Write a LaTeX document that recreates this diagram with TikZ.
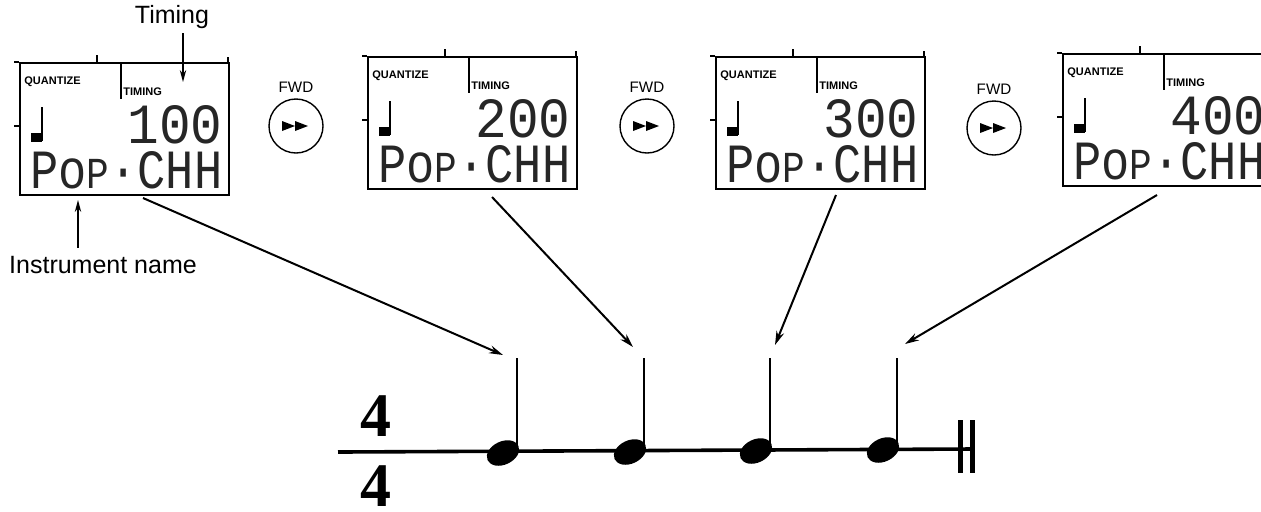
\documentclass[tikz,border=0pt]{standalone}
\usepackage{fontspec}
\setmainfont{Liberation Sans}
\newfontfamily\lcdfont{Liberation Mono}
\newfontfamily\sigfont{Liberation Serif}
\usepackage{graphicx}
\usetikzlibrary{arrows.meta,positioning}

% one LCD panel: name, left, top, timing value
\newcommand{\lcdpanel}[4]{%
  \begin{scope}[shift={(#2,#3)}]
    \node[lcdframe, anchor=north west] (#1) at (0,0) {};
    \draw[line width=0.8pt] (-5,0) -- (0,0) (209,0) -- (209,-5) (78,0) -- (78,-7) (0,64) -- (-5,64);
    \draw[line width=0.8pt] (102,0) -- (102,37);
    \node[lcdlabel, anchor=west] (#1q) at (5,20) {QUANTIZE};
    \node[lcdlabel, anchor=west] (#1t) at (104,30) {TIMING};
    % quarter note glyph
    \draw[line width=1.4pt] (23,45) -- (23,79);
    \fill (12,71) rectangle (23,80);
    \node[lcdtext, anchor=south east] (#1v) at (204,82) {\resizebox{47.5pt}{19pt}{#4}};
    \node[lcdtext, anchor=south west] (#1n) at (11,127) {\resizebox{96pt}{18.5pt}{Po{\footnotesize P}·CHH}};
  \end{scope}}

\begin{document}
\begin{tikzpicture}[x=0.5pt, y=-0.5pt,
  lcdframe/.style={draw, line width=0.8pt, minimum width=104.5pt, minimum height=66pt, inner sep=0pt},
  lcdlabel/.style={inner sep=0pt, font=\fontsize{5.5}{6}\selectfont\bfseries},
  lcdtext/.style={inner sep=0pt, font=\lcdfont, text=black!85},
  fwdbtn/.style={circle, draw, line width=0.7pt, minimum size=27pt, inner sep=0pt},
  fwdlabel/.style={inner sep=0pt, font=\fontsize{7.6}{8}\selectfont},
  callout/.style={inner sep=0pt, font=\fontsize{12.5}{14}\selectfont},
  thinptr/.style={-{Stealth[length=6pt,width=3.2pt]}, line width=0.6pt},
  ptr/.style={-{Stealth[length=7pt,width=4pt]}, line width=1pt},
  sig/.style={inner sep=0pt, font=\sigfont\bfseries\fontsize{31}{31}\selectfont}]
\useasboundingbox (0,0) rectangle (1261,511);
\clip (0,0) rectangle (1261,511);

% LCD panels
\lcdpanel{lcd1}{19}{62}{100}
\lcdpanel{lcd2}{367}{56}{200}
\lcdpanel{lcd3}{715}{56}{300}
\lcdpanel{lcd4}{1062}{53}{400}

% FWD buttons
\foreach \i/\x/\y in {1/296/126, 2/647/126, 3/994/128} {
  \node[fwdbtn] (fwd\i) at (\x,\y) {};
  \node[fwdlabel, above=2.5pt of fwd\i] (fwdl\i) {FWD};
  \fill ([shift={(-7pt,2.5pt)}]fwd\i.center) -- ++(0,-5pt) -- ++(6.5pt,2.5pt) -- cycle;
  \fill ([shift={(-0.5pt,2.5pt)}]fwd\i.center) -- ++(0,-5pt) -- ++(6.5pt,2.5pt) -- cycle;
}

% callouts
\node[callout] (timing) at (172,17) {Timing};
\coordinate (tmgtip) at (183,82);
\draw[thinptr, shorten <=2pt] (timing.south -| tmgtip) -- (tmgtip);
\node[callout] (inst) at (103,265) {Instrument name};
\coordinate (insttip) at (78,200);
\draw[thinptr, shorten <=4pt] (inst.north -| insttip) -- (insttip);

% staff with time signature
\draw[line width=1.8pt] (338,452) -- (972,449);
\node[sig] (num) at (376,416) {4};
\node[sig] (den) at (376,486) {4};
\draw[line width=2.5pt] (960,420) -- (960,473);
\draw[line width=2.5pt] (972,420) -- (972,473);

% quarter notes
\foreach \i/\x/\y in {1/518/453, 2/645/452, 3/771/451, 4/898/450} {
  \fill[rotate around={25:(\x-15,\y)}] (\x-15,\y) ellipse [x radius=8.5pt, y radius=5.8pt];
  \draw[line width=1pt] (\x-1,\y-2) -- (\x-1,358) coordinate (stem\i);
}

% arrows from panels to notes
\coordinate (s1) at (143,198); \coordinate (t1) at (503,355);
\coordinate (s2) at (492,197); \coordinate (t2) at (633,347);
\coordinate (s3) at (836,195); \coordinate (t3) at (775,345);
\coordinate (s4) at (1157,195); \coordinate (t4) at (905,344);
\foreach \i in {1,...,4} {
  \draw[ptr] (s\i) -- (t\i);
}
\end{tikzpicture}
\end{document}
